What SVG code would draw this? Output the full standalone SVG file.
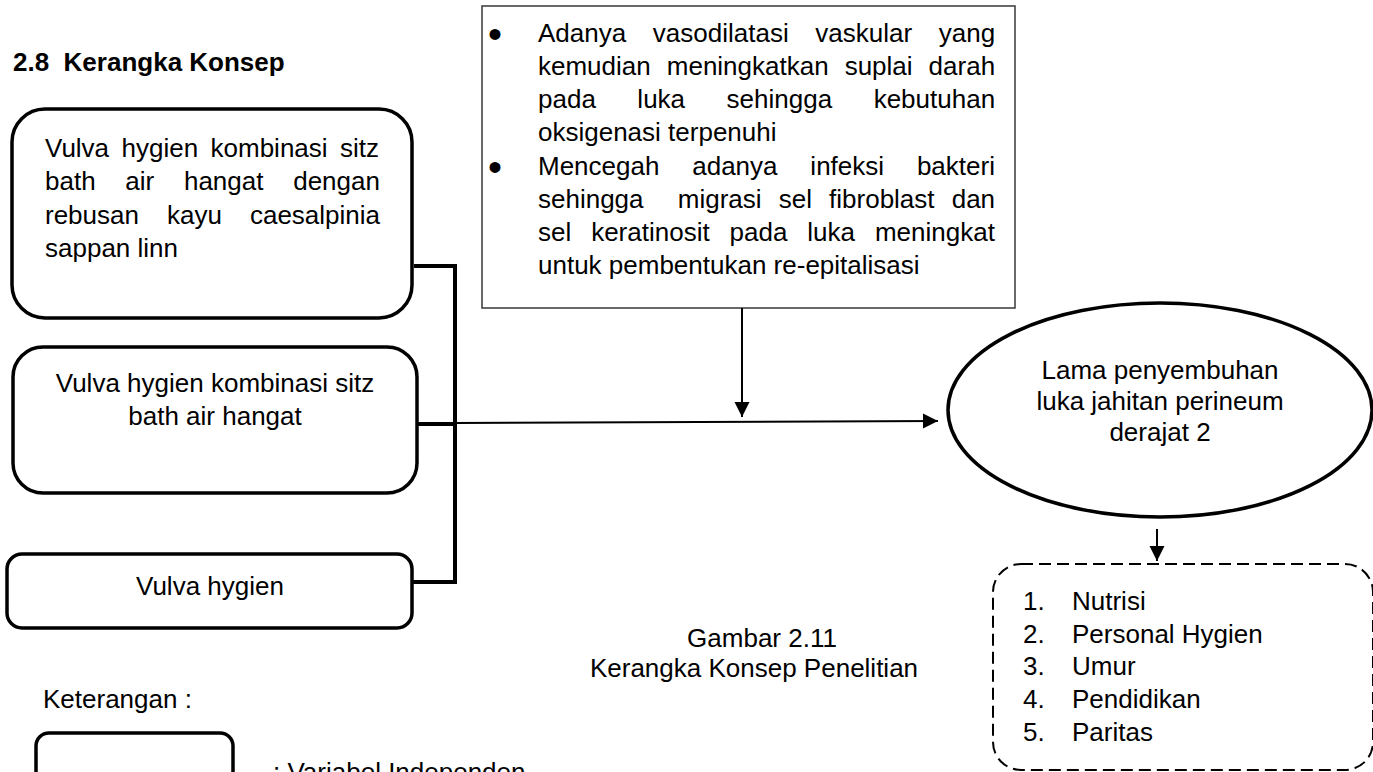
<svg xmlns="http://www.w3.org/2000/svg" width="1373" height="772" viewBox="0 0 1373 772">
<defs>
<style>
text{font-family:"Liberation Sans",Arial,sans-serif;font-size:26px;fill:#000}
.title{font-weight:bold}
.mid{text-anchor:middle}
.bullet{font-size:40px}
.box{fill:#fff;stroke:#000;stroke-width:3.5}
.note{fill:#fff;stroke:#444;stroke-width:1.6}
.dash{fill:none;stroke:#000;stroke-width:2;stroke-dasharray:12 6}
.thick{stroke:#000;stroke-width:4;fill:none}
.thin{stroke:#000;stroke-width:2;fill:none}
</style>
<marker id="ah" markerWidth="16" markerHeight="16" viewBox="0 0 16 16" refX="15" refY="8" orient="auto" markerUnits="userSpaceOnUse">
<path d="M0,0.5 L15,8 L0,15.5 Z" fill="#000"/>
</marker>
</defs>
<rect width="1373" height="772" fill="#fff"/>

<text class="title" x="13" y="71" xml:space="preserve">2.8  Kerangka Konsep</text>

<g id="box-sitz-sappan">
<rect class="box" x="12" y="109" width="400" height="209" rx="33"/>
<text x="45" y="157" style="word-spacing:5.2px">Vulva hygien kombinasi sitz</text>
<text x="45" y="190" style="word-spacing:22.5px">bath air hangat dengan</text>
<text x="45" y="224" style="word-spacing:20.8px">rebusan kayu caesalpinia</text>
<text x="45" y="257">sappan linn</text>
</g>

<g id="box-sitz">
<rect class="box" x="13" y="347" width="404" height="146" rx="30"/>
<text class="mid" x="215" y="392">Vulva hygien kombinasi sitz</text>
<text class="mid" x="215" y="425">bath air hangat</text>
</g>

<g id="box-vulva">
<rect class="box" x="7" y="554" width="405" height="74" rx="15"/>
<text class="mid" x="210" y="595">Vulva hygien</text>
</g>

<g id="box-mechanism">
<rect class="note" x="482" y="6" width="533" height="302"/>
<text class="bullet" x="488" y="48">•</text>
<text x="538" y="42" style="word-spacing:19.4px">Adanya vasodilatasi vaskular yang</text>
<text x="538" y="75" style="word-spacing:8.8px">kemudian meningkatkan suplai darah</text>
<text x="538" y="108" style="word-spacing:34.3px">pada luka sehingga kebutuhan</text>
<text x="538" y="141">oksigenasi terpenuhi</text>
<text class="bullet" x="488" y="181">•</text>
<text x="538" y="175" style="word-spacing:25.6px">Mencegah adanya infeksi bakteri</text>
<text x="538" y="208" xml:space="preserve" style="word-spacing:9.9px">sehingga  migrasi sel fibroblast dan</text>
<text x="538" y="241" style="word-spacing:12.7px">sel keratinosit pada luka meningkat</text>
<text x="538" y="274">untuk pembentukan re-epitalisasi</text>
</g>

<g id="ellipse-outcome">
<ellipse class="box" cx="1160" cy="410" rx="212" ry="107"/>
<text class="mid" x="1160" y="379">Lama penyembuhan</text>
<text class="mid" x="1160" y="410">luka jahitan perineum</text>
<text class="mid" x="1160" y="441">derajat 2</text>
</g>

<g id="box-confounders">
<rect class="dash" x="993" y="564" width="380" height="206" rx="28"/>
<text x="1023" y="610">1.</text><text x="1072" y="610">Nutrisi</text>
<text x="1023" y="643">2.</text><text x="1072" y="643">Personal Hygien</text>
<text x="1023" y="675">3.</text><text x="1072" y="675">Umur</text>
<text x="1023" y="708">4.</text><text x="1072" y="708">Pendidikan</text>
<text x="1023" y="741">5.</text><text x="1072" y="741">Paritas</text>
</g>

<g id="connectors">
<path class="thick" d="M414,266 H455 M455,264 V584 M417,424 H455 M412,582 H455"/>
<line class="thin" x1="455" y1="423" x2="938" y2="421" marker-end="url(#ah)"/>
<line class="thin" x1="742" y1="308" x2="742" y2="417" marker-end="url(#ah)"/>
<line class="thin" x1="1157" y1="529" x2="1157" y2="561" marker-end="url(#ah)"/>
</g>

<g id="caption">
<text class="mid" x="762" y="647">Gambar 2.11</text>
<text class="mid" x="754" y="677">Kerangka Konsep Penelitian</text>
</g>

<g id="legend">
<text x="43" y="708">Keterangan :</text>
<rect class="box" x="36" y="733" width="197" height="80" rx="13"/>
<text x="273" y="781">: Variabel Independen</text>
</g>
</svg>
